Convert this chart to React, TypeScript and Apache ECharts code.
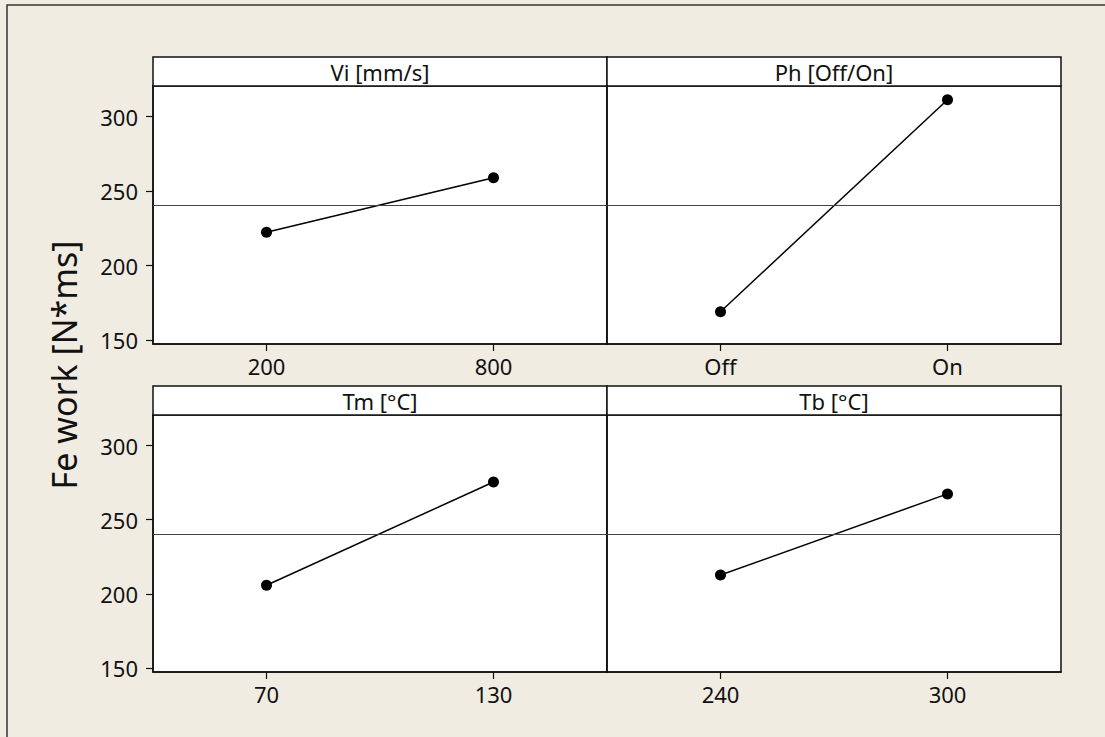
import React, { useEffect, useRef } from "react";
import * as echarts from "echarts";

const panelTitles = ["Vi [mm/s]", "Ph [Off/On]", "Tm [°C]", "Tb [°C]"];
const viLevels = ["200", "800"];
const phLevels = ["Off", "On"];
const tmLevels = ["70", "130"];
const tbLevels = ["240", "300"];
const viMeans = [222.3, 259.0];
const phMeans = [169.0, 311.4];
const tmMeans = [205.8, 275.4];
const tbMeans = [212.7, 267.4];
const grandMean = 240.3;
const yTicks = [150, 200, 250, 300];
const yMin = 147.3;
const yMax = 320.6;
const yTitle = "Fe work [N*ms]";

const FONT = "'Noto Sans', 'Open Sans', sans-serif";

export default function App() {
  const ref = useRef<HTMLDivElement>(null);
  useEffect(() => {
    document.body.style.margin = "0";
    if (!ref.current) return;
    const chart = echarts.init(ref.current, null, { renderer: "svg" });
    const levels = [viLevels, phLevels, tmLevels, tbLevels];
    const means = [viMeans, phMeans, tmMeans, tbMeans];
    const lefts = [153, 607, 153, 607];
    const tops = [86, 86, 415, 415];
    const heights = [258, 258, 257, 257];
    const W = 454;
    const stripTops = [57, 57, 386, 386];

    const grid = lefts.map((l, i) => ({
      left: l,
      top: tops[i],
      width: W,
      height: heights[i],
      show: true,
      backgroundColor: "#ffffff",
      borderColor: "#111",
      borderWidth: 1.5,
    }));
    const xAxis = levels.map((lv, i) => ({
      type: "category",
      gridIndex: i,
      data: lv,
      boundaryGap: true,
      axisLine: { show: true, lineStyle: { color: "#111", width: 1.5 } },
      axisTick: { show: true, alignWithLabel: true, length: 7, lineStyle: { color: "#111", width: 1.2 } },
      axisLabel: { color: "#111", fontSize: 22, fontFamily: FONT, margin: 11 },
      splitLine: { show: false },
    }));
    const yAxis = levels.map((_, i) => ({
      type: "value",
      gridIndex: i,
      min: yMin,
      max: yMax,
      axisLine: { show: true, lineStyle: { color: "#111", width: 1.5 } },
      axisTick: { show: i % 2 === 0, length: 7, customValues: yTicks, lineStyle: { color: "#111", width: 1.2 } },
      axisLabel: { show: i % 2 === 0, customValues: yTicks, color: "#111", fontSize: 22, fontFamily: FONT, margin: 15 },
      splitLine: { show: false },
    }));
    const series = means.map((m, i) => ({
      type: "line",
      xAxisIndex: i,
      yAxisIndex: i,
      data: m,
      symbol: "circle",
      symbolSize: 11,
      itemStyle: { color: "#000" },
      lineStyle: { color: "#000", width: 1.5 },
      markLine: {
        silent: true,
        symbol: ["none", "none"],
        label: { show: false },
        lineStyle: { color: "#444", width: 1.2, type: "solid" },
        data: [{ yAxis: grandMean }],
      },
    }));
    const graphic: any[] = [
      {
        type: "rect",
        shape: { x: 7, y: 5, width: 1300, height: 900 },
        style: { fill: "none", stroke: "#333", lineWidth: 1.5 },
        silent: true,
      },
    ];
    panelTitles.forEach((t, i) => {
      graphic.push({
        type: "rect",
        shape: { x: lefts[i], y: stripTops[i], width: W, height: 29 },
        style: { fill: "#ffffff", stroke: "#111", lineWidth: 1.5 },
        silent: true,
      });
      graphic.push({
        type: "text",
        x: lefts[i] + W / 2,
        y: stripTops[i] + 15,
        style: {
          text: t,
          fill: "#111",
          font: `22px ${FONT}`,
          textAlign: "center",
          textVerticalAlign: "middle",
        },
        silent: true,
      });
    });
    graphic.push({
      type: "text",
      x: 64,
      y: 365,
      rotation: Math.PI / 2,
      style: {
        text: yTitle,
        fill: "#111",
        font: `34px ${FONT}`,
        textAlign: "center",
        textVerticalAlign: "middle",
      },
      silent: true,
    });

    chart.setOption({
      animation: false,
      backgroundColor: "#F0ECE2",
      grid,
      xAxis,
      yAxis,
      series,
      graphic,
    });
    return () => chart.dispose();
  }, []);
  return <div ref={ref} style={{ width: 1105, height: 737 }} />;
}
